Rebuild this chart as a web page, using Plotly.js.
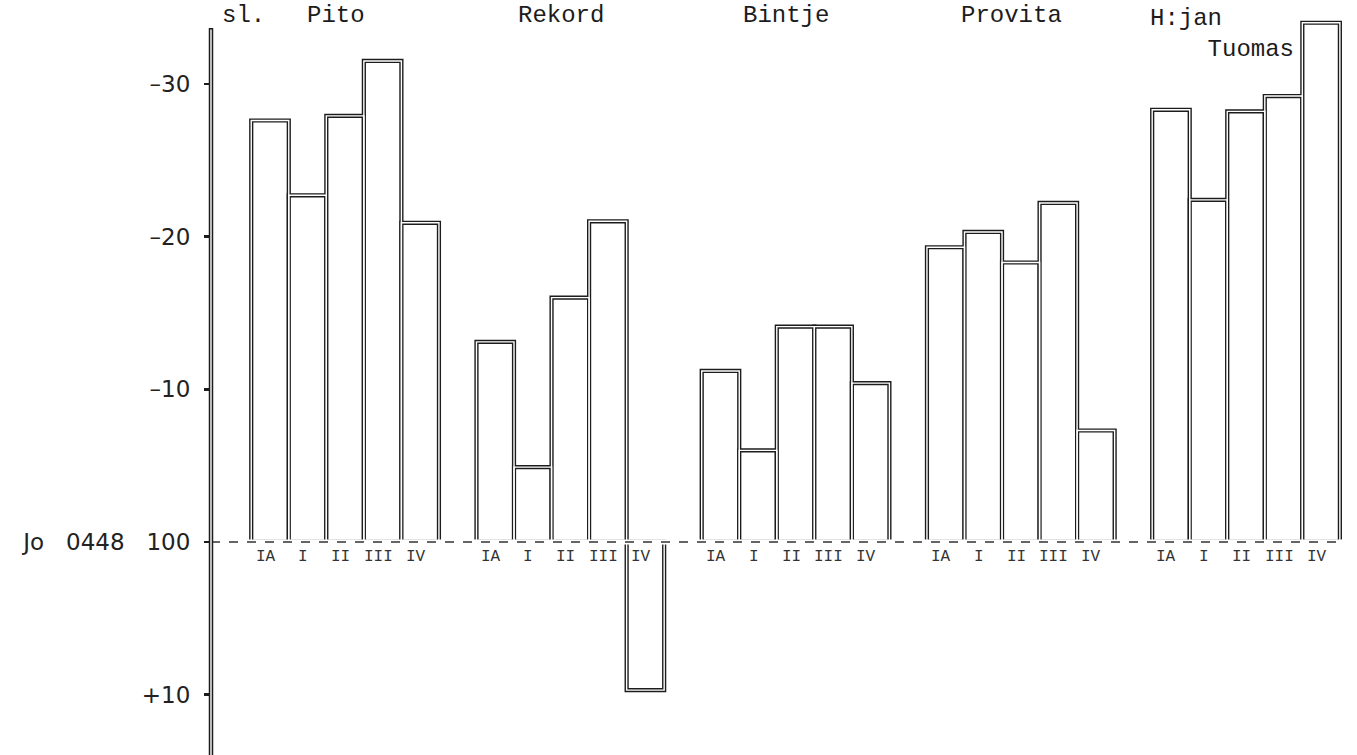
<!DOCTYPE html>
<html>
<head>
<meta charset="utf-8">
<script src="https://cdn.plot.ly/plotly-3.0.1.min.js"></script>
<style>html,body{margin:0;padding:0;background:#fff;}#chart{width:1357px;height:755px;}</style>
</head>
<body>
<div id="chart"></div>
<script>
// ---- data ----
const groups = ["Pito", "Rekord", "Bintje", "Provita", "H:jan Tuomas"];
const subLabels = ["IA", "I", "II", "III", "IV"];
const pito    = [-27.6, -22.7, -27.9, -31.5, -20.9];
const rekord  = [-13.1,  -4.9, -16.0, -21.0,   9.7];
const bintje  = [-11.2,  -6.0, -14.1, -14.1, -10.4];
const provita = [-19.3, -20.3, -18.3, -22.2,  -7.3];
const tuomas  = [-28.3, -22.4, -28.2, -29.2, -34.0];
const yTickVals = [-30, -20, -10, 0, 10];
const yTickText = ["\u201330", "\u201320", "\u201310", "Jo\u00a0\u00a0\u00a00448\u00a0\u00a0\u00a0100", "+10"];
const unitLabel = "sl.";

// ---- build ----
const series = [pito, rekord, bintje, provita, tuomas];
const slotsPerGroup = subLabels.length + 1;
const xs = [], ys = [], lbl = [];
series.forEach((vals, g) => {
  vals.forEach((v, k) => {
    xs.push(g * slotsPerGroup + k);
    ys.push(v);
    lbl.push(subLabels[k]);
  });
});

const ink = '#1c1c1c';
const outer = {
  type: 'bar', x: xs, y: ys, width: 1,
  marker: {color: '#ffffff', line: {color: ink, width: 4.2}},
  hoverinfo: 'skip', showlegend: false
};
const inner = {
  type: 'bar', x: xs, y: ys, width: 1,
  marker: {color: 'rgba(0,0,0,0)', line: {color: '#ffffff', width: 1.4}},
  hoverinfo: 'skip', showlegend: false
};

const titleFont = {family: 'Liberation Mono', size: 24, color: ink};
const annotations = [];
// bar sub-labels under the zero line
xs.forEach((x, i) => {
  annotations.push({
    x: x - 0.12, y: 0, xref: 'x', yref: 'y', text: lbl[i], showarrow: false,
    yanchor: 'top', yshift: -4,
    font: {family: 'Liberation Mono', size: 16, color: '#333'}
  });
});
// group titles at the top
groups.forEach((name, g) => {
  const parts = name.split(' ');
  if (parts.length > 1) {
    annotations.push({
      x: g * slotsPerGroup - 0.6, y: 1, xref: 'x', yref: 'paper',
      text: parts[0] + '<br>\u00a0\u00a0\u00a0\u00a0' + parts.slice(1).join(' '),
      showarrow: false, xanchor: 'left', yanchor: 'top', yshift: -3, align: 'left',
      font: titleFont
    });
  } else {
    annotations.push({
      x: g * slotsPerGroup + 1.75, y: 1, xref: 'x', yref: 'paper', text: name,
      showarrow: false, xanchor: 'center', yanchor: 'middle', yshift: -15,
      font: titleFont
    });
  }
});
annotations.push({
  x: 0, y: 1, xref: 'paper', yref: 'paper', text: unitLabel, showarrow: false,
  xanchor: 'center', yanchor: 'middle', xshift: 32, yshift: -15,
  font: titleFont
});

const axisTopFrac = 0.963; // where the drawn vertical axis stops (paper fraction)
const layout = {
  width: 1357, height: 755,
  margin: {l: 211, r: 0, t: 0, b: 0, pad: 0},
  paper_bgcolor: '#ffffff', plot_bgcolor: '#ffffff',
  barmode: 'overlay', bargap: 0,
  showlegend: false,
  xaxis: {
    range: [-1.572, 28.956], showgrid: false, zeroline: false,
    showticklabels: false, ticks: '', showline: false, fixedrange: true
  },
  yaxis: {
    range: [13.95, -35.49], showgrid: false, zeroline: false,
    tickvals: yTickVals, ticktext: yTickText,
    ticks: 'outside', ticklen: 6, tickwidth: 2.5, tickcolor: ink,
    showline: false,
    ticklabelstandoff: 9,
    tickfont: {family: 'DejaVu Sans', size: 23, color: '#222'},
    fixedrange: true
  },
  shapes: [
    {type: 'line', xref: 'paper', yref: 'y', x0: 0.004, x1: 0.988, y0: 0, y1: 0,
     line: {color: '#ffffff', width: 5}, layer: 'above'},
    {type: 'line', xref: 'paper', yref: 'y', x0: 0, x1: 0.988, y0: 0, y1: 0,
     line: {color: '#333', width: 1.5, dash: 'dash'}, layer: 'above'},
    {type: 'line', xref: 'paper', yref: 'paper', x0: 0, x1: 0, y0: 0, y1: axisTopFrac,
     line: {color: ink, width: 4.5}, layer: 'above'},
    {type: 'line', xref: 'paper', yref: 'paper', x0: 0, x1: 0, y0: 0, y1: axisTopFrac - 0.002,
     line: {color: '#ffffff', width: 1.4}, layer: 'above'}
  ],
  annotations: annotations
};

Plotly.newPlot('chart', [outer, inner], layout, {displayModeBar: false, staticPlot: true});
</script>
</body>
</html>
